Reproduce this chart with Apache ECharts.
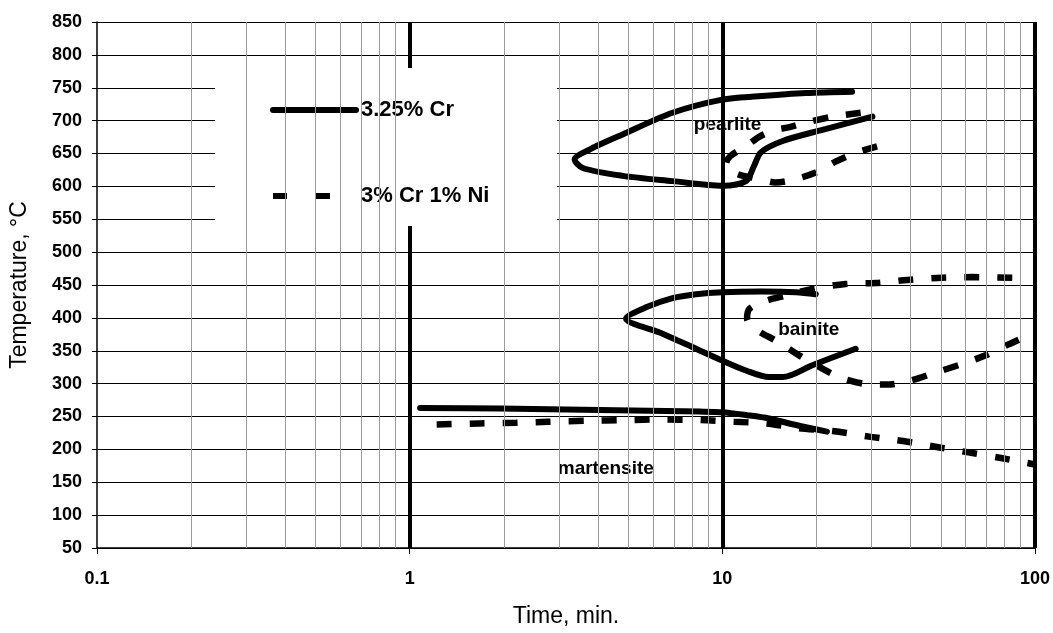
<!DOCTYPE html>
<html>
<head>
<meta charset="utf-8">
<script src="https://cdn.jsdelivr.net/npm/echarts@6/dist/echarts.min.js"></script>
<style>
html,body{margin:0;padding:0;background:#fff;}
#chart{width:1053px;height:633px;}
</style>
</head>
<body>
<div id="chart"></div>
<script>
// ---- data (time in min, temperature in °C) ----
var seriesNames = ['3.25% Cr', '3% Cr 1% Ni'];

var crPearlite = [[26.0,744],[18.5,742],[13,737],[10,732],[6.93,712],[4.8,679],[3.76,656],[3.37,641],[3.58,628],[4.8,616],[6.93,608],[10,601],[11.9,608],[12.6,630],[13.3,652],[15.6,669],[20.9,686],[30.2,706]];
var crBainite = [[19.9,436],[17.2,439],[13.4,440],[10,439],[8.24,436],[6.93,430],[5.7,416],[4.92,399],[6.44,376],[8.24,353],[10,335],[11.9,320],[14.1,310],[15.6,310],[19.4,328],[26.7,353]];
var crMartensite = [[1.08,263],[1.94,262],[5.17,259],[8.45,257.5],[10,256.5],[12,252],[14.1,247],[17.2,237],[21.6,227]];

var niPearlite = [[27.7,712],[22.5,706],[18.5,697],[16.4,690],[14.8,686],[13.2,676],[11.9,661],[10.6,646],[10.27,634],[10.5,626],[11.3,618],[13.2,611],[14.8,606],[16.8,610],[19.9,621],[23.1,638],[26.7,651],[31.3,661]];
var niBainite = [[84.6,461],[63.1,462],[50.6,461],[39.1,457.6],[31,453],[24.8,451.5],[19.4,444],[16,434],[13.8,426],[12.2,413.6],[12.0,398.5],[12.96,381],[14.8,365.6],[17.6,343],[20.4,325.3],[24.2,308],[29.4,299],[33.5,298.5],[39.6,304],[48.2,317],[58.5,330],[69.5,343],[82.6,360],[100,378]];
var niMartensite = [[1.22,238],[1.67,239.4],[2.19,240.4],[2.77,242],[3.71,243.5],[4.8,244.5],[6.44,245.5],[8.55,244.5],[10.9,242],[13.8,239.4],[17.6,232],[22.5,228],[29.8,219],[39.1,211.6],[50,202.5],[63.8,194],[78.7,186.4],[100,177]];

var regionNames = ['pearlite', 'bainite', 'martensite'];
var regionX = [10.4, 18.9, 4.24];
var regionY = [694, 382, 170];

var minorGridValues = [0.2,0.3,0.4,0.5,0.6,0.7,0.8,0.9,2,3,4,5,6,7,8,9,20,30,40,50,60,70,80,90];

var xAxisTitle = 'Time, min.';
var yAxisTitle = 'Temperature, °C';

// ---- chart ----
var FONT = '"Liberation Sans", Arial, sans-serif';
var chart = echarts.init(document.getElementById('chart'), null, {renderer: 'canvas'});

function solidSeries(data) {
  return {
    name: seriesNames[0], type: 'line', data: data, smooth: 0.3, symbol: 'none', z: 3,
    lineStyle: {color: '#000', width: 6, cap: 'round', join: 'round'},
    itemStyle: {color: '#000'}, animation: false, silent: true
  };
}
function dashedSeries(data) {
  return {
    name: seriesNames[1], type: 'line', data: data, smooth: 0.3, symbol: 'none', z: 3,
    lineStyle: {color: '#000', width: 6.5, type: [15, 18], cap: 'butt'},
    itemStyle: {color: '#000'}, animation: false, silent: true
  };
}

var regionData = regionNames.map(function (n, i) { return {name: n, value: [regionX[i], regionY[i]]}; });

var option = {
  backgroundColor: '#fff',
  animation: false,
  grid: {left: 97, right: 17, top: 22, bottom: 83, containLabel: false},
  xAxis: {
    type: 'log', logBase: 10, min: 0.1, max: 100,
    name: xAxisTitle, nameLocation: 'middle', nameGap: 57,
    nameTextStyle: {fontFamily: FONT, fontSize: 23, color: '#000'},
    axisLine: {show: true, lineStyle: {color: '#000', width: 1.5}},
    axisTick: {show: true, length: 6, lineStyle: {color: '#000', width: 1}},
    axisLabel: {fontFamily: FONT, fontSize: 18, fontWeight: 'bold', color: '#000', margin: 22,
      formatter: function (v) { return String(v); }},
    splitLine: {show: true, showMinLine: false, showMaxLine: true, lineStyle: {color: '#000', width: 4}}
  },
  yAxis: {
    type: 'value', min: 50, max: 850, interval: 50,
    name: yAxisTitle, nameLocation: 'middle', nameGap: 66,
    nameTextStyle: {fontFamily: FONT, fontSize: 23, color: '#000'},
    axisLine: {show: true, lineStyle: {color: '#000', width: 1.5}},
    axisTick: {show: true, length: 5, lineStyle: {color: '#000'}},
    axisLabel: {fontFamily: FONT, fontSize: 18, fontWeight: 'bold', color: '#000', margin: 15},
    splitLine: {show: true, lineStyle: {color: '#000', width: 1}}
  },
  legend: {
    show: true, orient: 'vertical', left: 270, top: 99, padding: 0,
    itemWidth: 83, itemHeight: 14, itemGap: 64, selectedMode: false, z: 5,
    itemStyle: {opacity: 0, borderWidth: 0},
    textStyle: {fontFamily: FONT, fontSize: 22, fontWeight: 'bold', color: '#000'},
    data: [
      {name: seriesNames[0], itemStyle: {opacity: 0, borderWidth: 0}, lineStyle: {color: '#000', width: 6, cap: 'round', type: 'solid'}},
      {name: seriesNames[1], itemStyle: {opacity: 0, borderWidth: 0}, lineStyle: {color: '#000', width: 6, type: [14, 29], cap: 'butt'}}
    ]
  },
  graphic: [
    {type: 'rect', z: 4, silent: true, shape: {x: 215, y: 68, width: 342, height: 158}, style: {fill: '#fff'}}
  ],
  series: [
    {
      name: 'minor-grid', type: 'line', data: [[0.1, 50]], symbol: 'none', z: 1, silent: true,
      lineStyle: {opacity: 0}, animation: false,
      markLine: {
        silent: true, symbol: ['none', 'none'], animation: false,
        label: {show: false},
        lineStyle: {color: '#9a9a9a', width: 1, type: 'solid'},
        emphasis: {disabled: true},
        data: minorGridValues.map(function (v) { return {xAxis: v}; })
      }
    },
    solidSeries(crPearlite), solidSeries(crBainite), solidSeries(crMartensite),
    dashedSeries(niPearlite), dashedSeries(niBainite), dashedSeries(niMartensite),
    {
      name: 'regions', type: 'scatter', data: regionData, symbolSize: 0, z: 4, silent: true,
      itemStyle: {color: '#000'},
      label: {show: true, position: 'inside', formatter: '{b}', fontFamily: FONT, fontSize: 19,
        fontWeight: 'bold', color: '#000', textBorderWidth: 0, opacity: 1}
    }
  ]
};
chart.setOption(option);
</script>
</body>
</html>
